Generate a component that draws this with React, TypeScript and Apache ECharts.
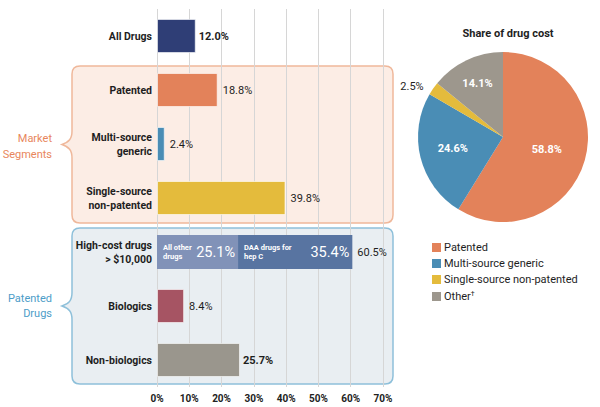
import React, { useEffect, useRef } from "react";
import * as echarts from "echarts";

const categories = [
  "All Drugs",
  "Patented",
  "Multi-source\ngeneric",
  "Single-source\nnon-patented",
  "High-cost drugs\n> $10,000",
  "Biologics",
  "Non-biologics",
];
const values = [12.0, 18.8, 2.4, 39.8, 60.5, 8.4, 25.7];
const barColors = ["#2f3e76", "#e3825a", "#4a8db5", "#e4bb3c", "transparent", "#a65463", "#9a968d"];
const boldValue = [true, false, false, false, false, false, true];
const highCostIndex = 4;
const highCostParts = [25.1, 35.4];
const highCostPartNames = ["All other\ndrugs", "DAA drugs for\nhep C"];
const highCostColors = ["#8192b8", "#5874a1"];
const xTicks = [0, 10, 20, 30, 40, 50, 60, 70];

const pieNames = ["Patented", "Multi-source generic", "Single-source non-patented", "Other"];
const pieValues = [58.8, 24.6, 2.5, 14.1];
const pieColors = ["#e3825a", "#4a8db5", "#e4bb3c", "#9d978d"];

const FONT = "Roboto, 'Noto Sans', sans-serif";

const BRACE_BOX =
  "M8,0 H313 Q321,0 321,8 V149 Q321,157 313,157 H8 Q0,157 0,149 V92 C0,84 -3,81 -10,78.5 C-3,76 0,73 0,65 V8 Q0,0 8,0 Z";

export default function App() {
  const ref = useRef<HTMLDivElement>(null);
  useEffect(() => {
    document.body.style.margin = "0";
    if (!ref.current) return;
    echarts.graphic.registerShape("bracebox", echarts.graphic.extendPath(BRACE_BOX, {}) as any);
    const chart = echarts.init(ref.current, null, { renderer: "svg" });

    const mask = (i: number, v: number) => categories.map((_, k) => (k === i ? v : null));

    const option: any = {
      animation: false,
      textStyle: { fontFamily: FONT },
      title: {
        text: "Share of drug cost",
        left: 503,
        top: 23,
        textAlign: "center",
        textStyle: { fontSize: 11, fontWeight: "bold", color: "#1e1e1e", fontFamily: FONT },
      },
      grid: { left: 157, right: 217, top: 9, bottom: 20, containLabel: false },
      xAxis: {
        type: "value",
        min: 0,
        max: 70,
        interval: 10,
        axisLine: { show: false },
        axisTick: { show: false },
        splitLine: { lineStyle: { color: "#d6d6d6", width: 1 } },
        axisLabel: {
          formatter: (v: number) => (xTicks.includes(v) ? v + "%" : ""),
          color: "#222",
          fontSize: 10,
          fontWeight: "bold",
          margin: 6,
          fontFamily: FONT,
        },
        z: 2,
      },
      yAxis: {
        type: "category",
        inverse: true,
        data: categories,
        axisLine: { show: false },
        axisTick: { show: false },
        axisLabel: {
          color: "#1e1e1e",
          fontSize: 10.5,
          fontWeight: "bold",
          lineHeight: 14,
          margin: 5,
          fontFamily: FONT,
        },
      },
      legend: {
        orient: "vertical",
        left: 427,
        top: 237,
        itemWidth: 9,
        itemHeight: 9,
        itemGap: 5,
        icon: "rect",
        data: pieNames,
        formatter: (n: string) => (n === "Other" ? "Other{sup|†}" : n),
        textStyle: {
          fontSize: 11,
          color: "#1e1e1e",
          fontFamily: FONT,
          padding: [0, 0, 0, -2],
          rich: { sup: { fontSize: 7, verticalAlign: "top", padding: [0, 0, 6, 0], color: "#1e1e1e" } },
        },
      },
      series: [
        {
          type: "bar",
          name: "main",
          barWidth: 34,
          barGap: "-100%",
          data: values.map((v, i) => ({
            value: v,
            itemStyle: {
              color: barColors[i],
              borderColor: i === highCostIndex ? "transparent" : "rgba(255,255,255,0.6)",
              borderWidth: 1,
            },
            label: {
              show: true,
              position: "right",
              distance: boldValue[i] ? 3 : 5,
              formatter: v.toFixed(1) + "%",
              color: "#1e1e1e",
              fontSize: 11,
              fontWeight: boldValue[i] ? "bold" : "normal",
              fontFamily: FONT,
            },
          })),
        },
        ...highCostParts.map((v, j) => ({
          type: "bar",
          name: "hc" + j,
          stack: "hc",
          barWidth: 34,
          barGap: "-100%",
          data: mask(highCostIndex, v),
          itemStyle: { color: highCostColors[j] },
          label: {
            show: true,
            position: "insideLeft",
            distance: 6,
            formatter: highCostPartNames[j],
            color: "#fff",
            fontSize: 7.5,
            fontWeight: "bold",
            lineHeight: 8.5,
            fontFamily: FONT,
          },
        })),
        ...highCostParts.map((v, j) => ({
          type: "bar",
          name: "hcv" + j,
          stack: "hcv",
          barWidth: 34,
          barGap: "-100%",
          data: mask(highCostIndex, v),
          itemStyle: { color: "transparent" },
          label: {
            show: true,
            position: "insideRight",
            distance: 3,
            formatter: v.toFixed(1) + "%",
            color: "#fff",
            fontSize: 14.5,
            fontFamily: FONT,
          },
        })),
        {
          type: "pie",
          name: "share",
          center: [503, 137],
          radius: 85,
          startAngle: 90,
          clockwise: true,
          color: pieColors,
          label: {
            show: true,
            position: "inside",
            formatter: (p: any) => p.value.toFixed(1) + "%",
            color: "#fff",
            fontSize: 11,
            fontWeight: "bold",
            fontFamily: FONT,
          },
          labelLine: { show: false },
          data: pieNames.map((n, i) => {
            const d: any = { name: n, value: pieValues[i], itemStyle: { color: pieColors[i] } };
            if (i === 2) {
              d.label = { position: "outside", color: "#1e1e1e", fontWeight: "normal" };
              d.labelLine = { show: false, length: 3, length2: 2 };
            }
            if (i === 3) {
              d.label = { offset: [-6, -12] };
            }
            if (i === 1) {
              d.label = { offset: [-6, 0] };
            }
            return d;
          }),
        },
      ],
      graphic: [
        {
          type: "bracebox",
          x: 72,
          y: 66,
          z: -10,
          style: { fill: "#fcede5", stroke: "#efb89b", lineWidth: 1.5 },
        },
        {
          type: "bracebox",
          x: 72,
          y: 228,
          scaleY: 156 / 157,
          z: -10,
          style: { fill: "#e9eef2", stroke: "#8ec0da", lineWidth: 1.5 },
        },
        {
          type: "text",
          x: 52,
          y: 146,
          z: 5,
          style: {
            text: "Market\nSegments",
            textAlign: "right",
            textVerticalAlign: "middle",
            fill: "#e8865c",
            font: "11px " + FONT,
            lineHeight: 16,
          },
        },
        {
          type: "text",
          x: 52,
          y: 306,
          z: 5,
          style: {
            text: "Patented\nDrugs",
            textAlign: "right",
            textVerticalAlign: "middle",
            fill: "#4d9dc8",
            font: "11px " + FONT,
            lineHeight: 15,
          },
        },
      ],
    };
    chart.setOption(option);
    return () => chart.dispose();
  }, []);
  return <div ref={ref} style={{ width: 600, height: 407 }} />;
}
